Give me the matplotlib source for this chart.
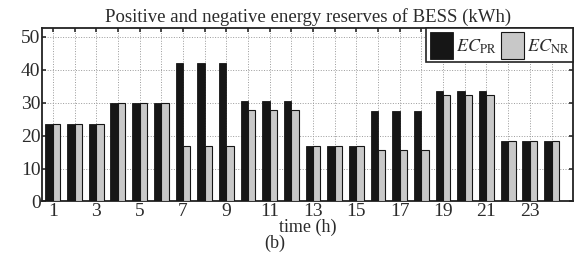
import numpy as np
import matplotlib
matplotlib.use('Agg')
import matplotlib.pyplot as plt

plt.rcParams['font.family'] = ['Liberation Serif', 'DejaVu Serif']
plt.rcParams['mathtext.fontset'] = 'stix'

hours = list(range(1, 25))
ec_pr = [23.5, 23.5, 23.5, 30, 30, 30, 42, 42, 42, 30.6, 30.6, 30.6,
         16.8, 16.8, 16.8, 27.6, 27.6, 27.6, 33.4, 33.4, 33.4, 18.5, 18.5, 18.5]
ec_nr = [23.5, 23.5, 23.5, 30, 30, 30, 16.7, 16.7, 16.7, 27.8, 27.8, 27.8,
         16.8, 16.8, 16.8, 15.5, 15.5, 15.5, 32.3, 32.3, 32.3, 18.5, 18.5, 18.5]
tick_labels = [str(h) if h % 2 == 1 else '' for h in hours]

txt = '#2b2b2b'
fig = plt.figure(figsize=(5.79, 2.61), dpi=100)
ax = fig.add_axes([0.0725, 0.228, 0.9175, 0.663])

x = np.array(hours)
w = 0.34
ax.bar(x - w / 2, ec_pr, w, color='#161616', edgecolor='#161616', linewidth=0.6,
       label=r'$EC_{\mathrm{PR}}$', zorder=3)
ax.bar(x + w / 2, ec_nr, w, color='#c8c8c8', edgecolor='#161616', linewidth=0.8,
       label=r'$EC_{\mathrm{NR}}$', zorder=3)

ax.set_xlim(0.5, 25)
ax.set_ylim(0, 52.5)
ax.set_xticks(hours)
ax.set_xticklabels(tick_labels)
ax.set_yticks([0, 10, 20, 30, 40, 50])
ax.tick_params(direction='in', top=True, right=True, length=3, width=1.2,
               labelsize=14, colors=txt, pad=1)
ax.grid(True, linestyle=':', color='#9a9a9a', linewidth=0.7)
ax.set_axisbelow(True)
for s in ax.spines.values():
    s.set_linewidth(1.3)
    s.set_color('#222222')

ax.set_title('Positive and negative energy reserves of BESS (kWh)', fontsize=13.5,
             color=txt, pad=5)
ax.set_xlabel('time (h)', fontsize=13, color=txt, labelpad=-1)
fig.text(0.475, 0.05, '(b)', fontsize=13, color=txt, ha='center')

leg = ax.legend(loc='upper right', ncol=2, fontsize=13, frameon=True, fancybox=False,
                edgecolor='#222222', handlelength=1.25, handleheight=1.9,
                handletextpad=0.2, columnspacing=0.25, borderpad=0.2,
                borderaxespad=0.0)
leg.get_frame().set_linewidth(1.2)
leg.get_frame().set_alpha(1)
for t in leg.get_texts():
    t.set_color(txt)

fig.savefig('out.png', dpi=100)
